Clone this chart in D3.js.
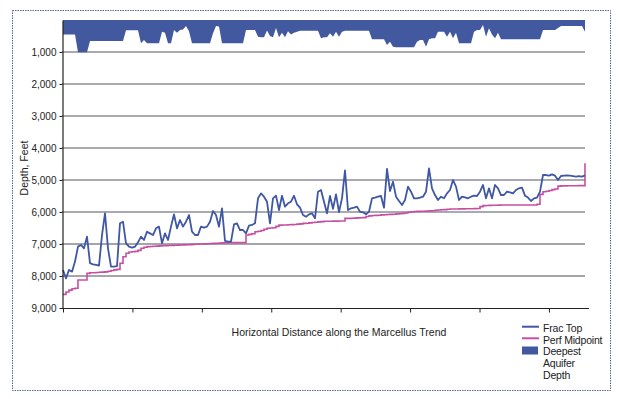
<!DOCTYPE html>
<html><head><meta charset="utf-8">
<script src="https://cdn.jsdelivr.net/npm/d3@7"></script>
<style>
html,body{margin:0;padding:0;background:#fff;}
svg{display:block;font-family:"Liberation Sans",Arial,Helvetica,sans-serif;}
</style></head>
<body><svg id="chart" width="620" height="399"></svg>
<script>
// Depth (feet) at evenly spaced positions along the Marcellus trend
const fracTop = [
7812,8073,7810,7865,7550,7083,7030,7135,6770,7600,
7635,7656,7677,6720,6040,7135,7708,7708,7690,6354,
6302,6979,7083,7115,7083,6948,6770,6875,6615,6667,
6719,6510,6458,6979,6667,6875,6458,6073,6510,6250,
6458,6302,6094,6615,6719,6719,6458,6490,6458,6302,
5969,6094,6458,5885,6906,6927,6927,6385,6354,6563,
6563,6667,6427,6406,6354,5573,5417,5521,5677,6354,
5573,5490,5938,5490,5833,5729,5677,5490,5760,5865,
6094,6146,6073,6040,6198,5365,5313,5677,6042,5500,
5900,5450,6000,5573,4700,5938,5885,5865,5833,5990,
6010,6073,5990,5573,5550,5521,5500,5865,4650,5344,
5052,5521,5656,5781,5625,5208,5365,5573,5573,5550,
5521,5365,4635,5260,5469,5625,5521,5573,5417,5313,
5000,5208,5625,5521,5540,5573,5521,5490,5500,5365,
5156,5573,5260,5573,5156,5260,5469,5469,5365,5385,
5417,5313,5260,5240,5490,5550,5656,5573,5550,5365,
4844,4844,4865,4823,4865,5000,4875,4865,4855,4865,
4880,4895,4880,4895,4855];

const perfMidpoint = [
8573,8500,8440,8400,8385,8125,8125,8125,7917,7900,
7900,7890,7885,7880,7870,7850,7830,7810,7792,7600,
7400,7290,7250,7240,7230,7200,7135,7100,7083,7078,
7072,7066,7060,7055,7052,7048,7044,7040,7036,7032,
7028,7024,7018,7012,7006,7000,7000,6995,6990,6985,
6980,6975,6970,6965,6960,6958,6958,6958,6958,6958,
6958,6719,6700,6680,6615,6600,6580,6540,6510,6500,
6490,6450,6410,6406,6406,6400,6395,6390,6380,6370,
6355,6350,6340,6330,6320,6310,6300,6290,6290,6288,
6285,6285,6282,6280,6200,6200,6195,6190,6185,6180,
6175,6140,6120,6110,6105,6100,6090,6085,6080,6075,
6070,6060,6050,6042,6030,6010,5990,5985,5982,5978,
5975,5970,5965,5960,5945,5938,5930,5925,5915,5906,
5905,5904,5903,5902,5900,5900,5898,5896,5890,5833,
5800,5795,5792,5790,5788,5785,5781,5781,5781,5781,
5781,5781,5781,5781,5781,5781,5781,5781,5760,5450,
5365,5350,5330,5300,5280,5190,5185,5185,5182,5180,
5180,5178,5177,5175,4480];

const aquiferDepth = [
450,450,450,450,450,1010,1010,1010,1010,660,
660,660,660,660,660,660,660,660,660,660,
660,320,320,320,320,320,729,625,729,729,
729,729,729,365,400,729,729,313,400,313,
300,188,350,729,729,729,729,729,729,729,
417,188,200,729,729,729,729,729,729,729,
729,313,313,313,313,521,542,542,330,500,
542,250,542,400,542,350,450,400,370,333,
333,333,333,333,333,333,573,542,542,417,
521,365,521,365,333,333,333,333,333,333,
333,333,333,604,604,604,604,604,781,677,
833,854,854,854,854,854,854,854,677,625,
625,833,600,573,573,365,365,365,521,365,
573,400,729,729,729,729,729,365,313,313,
156,521,260,450,573,400,604,604,604,604,
604,604,604,604,604,604,604,604,604,604,
313,313,313,313,313,250,188,188,188,188,
188,188,188,188,365];

const yTicks = [1000,2000,3000,4000,5000,6000,7000,8000,9000];
const legendLines = [["Frac Top"],["Perf Midpoint"],["Deepest","Aquifer","Depth"]];
const xTitle = "Horizontal Distance along the Marcellus Trend";
const yTitle = "Depth, Feet";

const N = fracTop.length;
const colFrac = "#3f57a4", colPerf = "#c54fa0", colAq = "#4259a0";

const svg = d3.select("#chart");
svg.append("rect").attr("x",12.5).attr("y",10.5).attr("width",598).attr("height",380)
  .attr("fill","#fff").attr("stroke","#5a6790").attr("stroke-width",1).attr("stroke-dasharray","1.5,1");

const x = d3.scaleLinear().domain([0, N-1]).range([63, 585]);
const y = d3.scaleLinear().domain([0, 9000]).range([20, 308]);

// gridlines
svg.append("g").selectAll("line").data(yTicks.filter(d=>d<9000)).join("line")
  .attr("x1", x(0)-1).attr("x2", x(N-1)).attr("y1", d=>y(d)).attr("y2", d=>y(d))
  .attr("stroke", d=> d>=7000 ? "#4a4a5a" : "#8d8d9a")
  .attr("stroke-width", d=> d>=7000 ? 1 : 1.6);

// aquifer band
const area = d3.area().x((d,i)=>x(i)).y0(y(0)).y1(d=>y(d));
svg.append("path").datum(aquiferDepth).attr("d", area).attr("fill", colAq);

// lines
svg.append("path").datum(perfMidpoint)
  .attr("d", d3.line().x((d,i)=>x(i)).y(d=>y(d)).curve(d3.curveStepAfter))
  .attr("fill","none").attr("stroke",colPerf).attr("stroke-width",1.6);
svg.append("path").datum(fracTop).attr("d", d3.line().x((d,i)=>x(i)).y(d=>y(d)))
  .attr("fill","none").attr("stroke",colFrac).attr("stroke-width",1.8).attr("stroke-linejoin","round");

// y axis
const yAxis = svg.append("g").attr("transform","translate(62.5,0)")
  .call(d3.axisLeft(y).tickValues(yTicks).tickSize(3).tickSizeOuter(0).tickFormat(d3.format(",")));
yAxis.select(".domain").attr("stroke","#222").attr("stroke-width",1.2);
yAxis.selectAll(".tick line").attr("stroke","#222");
yAxis.selectAll("text").attr("font-size",10).attr("fill","#222")
  .attr("font-family","'Liberation Sans',Arial,sans-serif");

// x axis
const tickStep = 23.14;
const xAxis = svg.append("g").attr("transform","translate(0,308.5)")
  .call(d3.axisBottom(x).tickValues(d3.range(0, N, tickStep)).tickSize(4).tickSizeOuter(0).tickFormat(""));
xAxis.select(".domain").remove();
xAxis.selectAll(".tick line").attr("stroke","#222");
xAxis.append("line").attr("x1", x(0)-1).attr("x2", x(N-1)+4).attr("y1",0).attr("y2",0)
  .attr("stroke","#222").attr("stroke-width",1.2);

// titles
svg.append("text").attr("x",339).attr("y",336).attr("text-anchor","middle")
  .attr("font-size",10.5).attr("fill","#222").text(xTitle);
svg.append("text").attr("transform","translate(28,168) rotate(-90)").attr("text-anchor","middle")
  .attr("font-size",10.5).attr("fill","#222").text(yTitle);

// legend
const lg = svg.append("g");
lg.append("line").attr("x1",522).attr("x2",539).attr("y1",326.7).attr("y2",326.7)
  .attr("stroke",colFrac).attr("stroke-width",2);
lg.append("line").attr("x1",522).attr("x2",539).attr("y1",338.3).attr("y2",338.3)
  .attr("stroke",colPerf).attr("stroke-width",2);
lg.append("rect").attr("x",522).attr("y",346.5).attr("width",16).attr("height",8).attr("fill",colAq);
const baselines = [[331.5],[343.5],[355,367,379]];
legendLines.forEach((ls,k)=>{
  ls.forEach((t,j)=>{
    lg.append("text").attr("x",543).attr("y",baselines[k][j]).attr("font-size",10.5)
      .attr("fill","#222").attr("letter-spacing","-0.2").text(t);
  });
});
</script></body></html>
